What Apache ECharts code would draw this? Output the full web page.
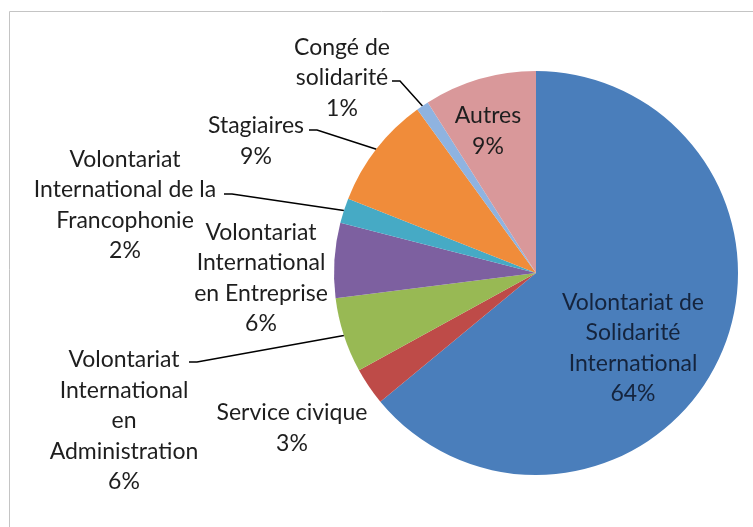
<!DOCTYPE html>
<html>
<head>
<meta charset="utf-8">
<script src="https://cdn.jsdelivr.net/npm/echarts@6/dist/echarts.min.js"></script>
<style>
    html, body { margin: 0; padding: 0; background: #fff; }
    #chart { width: 753px; height: 527px; }
</style>
</head>
<body>
<div id="chart"></div>
<script>
// valeurs (en %)
const categories = [
    'Volontariat de\nSolidarité\nInternational',
    'Service civique',
    'Volontariat\nInternational\nen\nAdministration',
    'Volontariat\nInternational\nen Entreprise',
    'Volontariat\nInternational de la\nFrancophonie',
    'Stagiaires',
    'Congé de\nsolidarité',
    'Autres'
]
const values = [64, 3, 6, 6, 2, 9, 1, 9]
const colors = ['#4a7ebb', '#be4b48', '#98b954', '#7d60a0', '#46aac5', '#f08c3a', '#8fb3e0', '#d9989a']
const hasLeader = [false, false, true, false, true, true, true, false]

// emplacement des étiquettes (centre du bloc de texte) et point d'attache du trait
const labelPos = [
    [633, 348], [292, 428], [124, 421], [261, 278],
    [125, 205], [256, 141], [342, 78], [488, 131]
]
const leaderEnd = [
    null, null, [189, 362], null,
    [224, 194], [309, 130], [392, 81], null
]

const chart = echarts.init(document.getElementById('chart'))

const seriesData = values.map((v, i) => ({
    name: categories[i],
    value: v,
    itemStyle: { color: colors[i] },
    labelLine: { show: hasLeader[i] },
    label: i === 0 ? { color: '#15243d' } : {}
}))

const option = {
    animation: false,
    graphic: [{
        type: 'rect',
        shape: { x: 9.5, y: 11.5, width: 800, height: 600 },
        style: { fill: 'none', stroke: '#c4c4c4', lineWidth: 1 },
        silent: true
    }],
    series: [{
        type: 'pie',
        center: [536, 273],
        radius: 202,
        startAngle: 90,
        clockwise: true,
        avoidLabelOverlap: false,
        data: seriesData,
        label: {
            show: true,
            position: 'outside',
            formatter: '{b}\n{c}%',
            fontFamily: 'Lato',
            fontSize: 23,
            lineHeight: 30.5,
            color: '#1e1e1e',
            align: 'center'
        },
        labelLine: {
            show: true,
            lineStyle: { color: '#000', width: 1.5 }
        },
        labelLayout: function (params) {
            const i = params.dataIndex
            const res = {
                x: labelPos[i][0],
                y: labelPos[i][1],
                align: 'center',
                verticalAlign: 'middle'
            }
            if (leaderEnd[i] && params.labelLinePoints) {
                const edge = params.labelLinePoints[0]
                const end = leaderEnd[i]
                res.labelLinePoints = [edge, [end[0] + 8, end[1]], end]
            }
            return res
        }
    }]
}

chart.setOption(option)
</script>
</body>
</html>
